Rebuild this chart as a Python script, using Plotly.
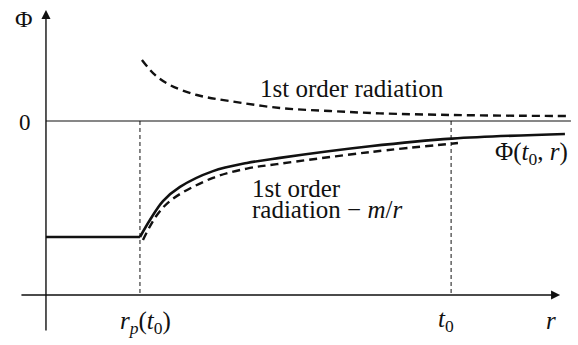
import plotly.graph_objects as go

# Characteristic radii on the r axis
r_p = 1.0
t0 = 4.31

# Potential Phi(t0, r): constant level inside r_p ...
r_core = [0.0, 1.0]
phi_core = [-1.0, -1.0]
# ... and rising towards zero outside r_p
r_solid = [1.0, 1.106, 1.245, 1.426, 1.777, 2.138, 2.489, 3.447, 4.319, 5.521]
phi_solid = [-1.0, -0.853, -0.690, -0.568, -0.432, -0.362, -0.318, -0.218, -0.152, -0.112]

# 1st order radiation (positive, decaying)
r_rad = [1.021, 1.160, 1.319, 1.606, 1.957, 2.489, 3.021, 3.553, 4.298, 5.043, 5.543]
phi_rad = [0.526, 0.397, 0.310, 0.224, 0.172, 0.112, 0.086, 0.066, 0.052, 0.045, 0.043]

# 1st order radiation - m/r
r_rad_m = [1.032, 1.181, 1.351, 1.777, 2.138, 2.457, 3.447, 4.383]
phi_rad_m = [-1.026, -0.810, -0.670, -0.490, -0.410, -0.372, -0.268, -0.190]

# Axis extents
r_min, r_max = -0.489, 5.660
phi_min, phi_max = -1.931, 1.043
r_axis_level = -1.5
r_axis_left, r_axis_tip = -0.277, 5.47
phi_axis_bottom, phi_axis_tip = -1.819, 0.957
zero_line_end = 5.585

SERIF = "Liberation Serif"
INK = "#111111"

fig = go.Figure()

fig.add_trace(go.Scatter(x=r_rad, y=phi_rad, mode="lines", line_shape="spline",
                         line=dict(color=INK, width=2.4, dash="8px,5px")))
fig.add_trace(go.Scatter(x=r_rad_m, y=phi_rad_m, mode="lines", line_shape="spline",
                         line=dict(color=INK, width=2.4, dash="8px,5px")))
fig.add_trace(go.Scatter(x=r_core, y=phi_core, mode="lines",
                         line=dict(color=INK, width=2.6)))
fig.add_trace(go.Scatter(x=r_solid, y=phi_solid, mode="lines", line_shape="spline",
                         line=dict(color=INK, width=2.6)))

shapes = [
    # zero level
    dict(type="line", x0=0, x1=zero_line_end, y0=0, y1=0, xref="x", yref="y",
         line=dict(color=INK, width=1.2)),
    # r_p and t0 markers
    dict(type="line", x0=r_p, x1=r_p, y0=0, y1=r_axis_level, xref="x", yref="y",
         line=dict(color=INK, width=1, dash="4px,3px")),
    dict(type="line", x0=t0, x1=t0, y0=0, y1=r_axis_level, xref="x", yref="y",
         line=dict(color=INK, width=1, dash="4px,3px")),
]

annotations = [
    # axes with arrow heads
    dict(x=0, y=phi_axis_tip, ax=0, ay=phi_axis_bottom, xref="x", yref="y",
         axref="x", ayref="y", showarrow=True, arrowhead=2, arrowsize=1.3,
         arrowwidth=1.4, arrowcolor=INK, text=""),
    dict(x=r_axis_tip, y=r_axis_level, ax=r_axis_left, ay=r_axis_level, xref="x", yref="y",
         axref="x", ayref="y", showarrow=True, arrowhead=2, arrowsize=1.3,
         arrowwidth=1.4, arrowcolor=INK, text=""),
]

def label(text, x, y, size=25, xanchor="center", yanchor="middle"):
    annotations.append(dict(x=x, y=y, xref="x", yref="y", text=text, showarrow=False,
                            xanchor=xanchor, yanchor=yanchor,
                            font=dict(family=SERIF, size=size, color=INK)))

label("Φ", -0.234, 0.879, size=24)
label("0", -0.138, -0.009, xanchor="right", size=23)
label("1st order radiation", 3.255, 0.284)
label("1st order", 2.17, -0.585, xanchor="left")
label("radiation − <i>m</i>/<i>r</i>", 2.17, -0.765, xanchor="left")
label("Φ(<i>t</i><sub>0</sub>, <i>r</i>)", 5.16, -0.276)
label("<i>r</i><sub><i>p</i></sub>(<i>t</i><sub>0</sub>)", 1.064, -1.733)
label("<i>t</i><sub>0</sub>", 4.255, -1.716)
label("<i>r</i>", 5.372, -1.716)

fig.update_layout(
    width=578, height=345,
    margin=dict(l=0, r=0, t=0, b=0),
    paper_bgcolor="white", plot_bgcolor="white",
    showlegend=False,
    shapes=shapes, annotations=annotations,
    xaxis=dict(range=[r_min, r_max], visible=False, fixedrange=True),
    yaxis=dict(range=[phi_min, phi_max], visible=False, fixedrange=True),
)

fig.write_html("out.html")
